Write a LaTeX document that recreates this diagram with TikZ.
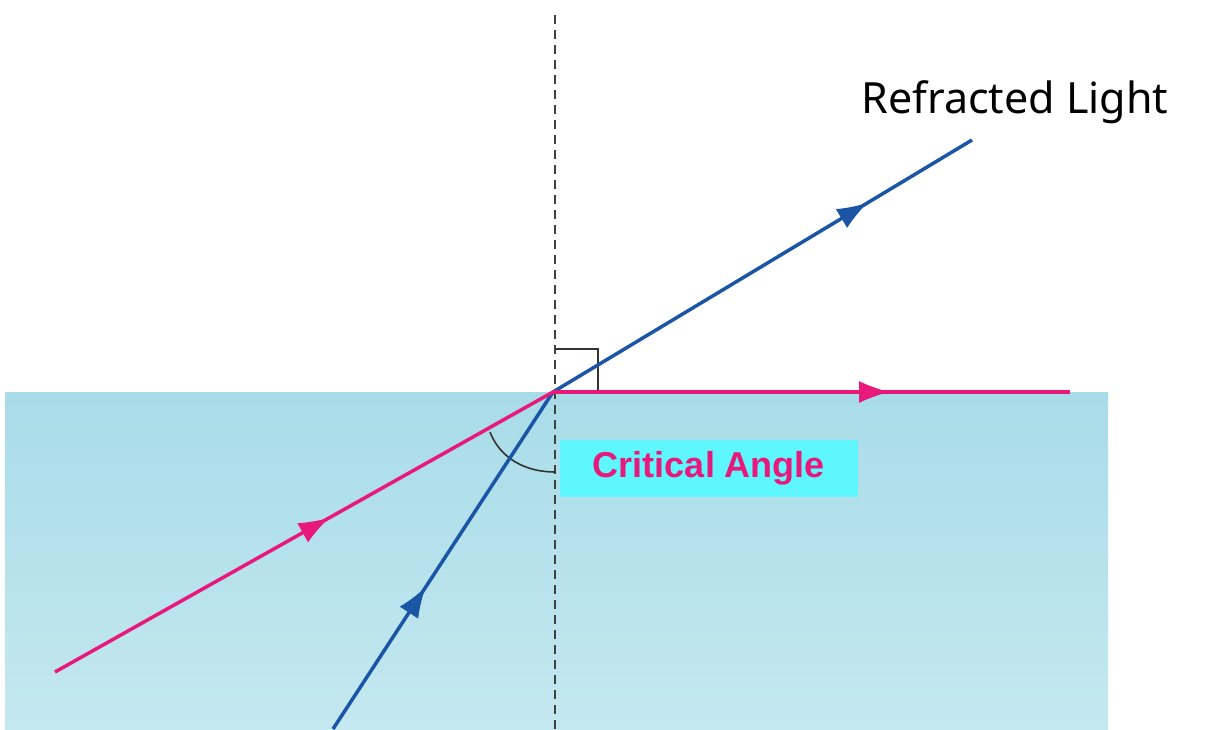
\documentclass[tikz,border=0pt]{standalone}
\usepackage{fontspec}
\setmainfont{Noto Sans}
\newfontfamily\lbf{Liberation Sans}
\usetikzlibrary{decorations.markings,arrows.meta}
\definecolor{pk}{HTML}{E8197A}
\definecolor{bl}{HTML}{1B55A6}
\definecolor{wt}{HTML}{A8DCE8}
\definecolor{wb}{HTML}{C4E8F0}
\definecolor{cy}{HTML}{5EF6FF}
\begin{document}
\begin{tikzpicture}[x=1pt,y=-1pt,
 ray/.style={line width=3.5pt},
 mid/.style={postaction={decorate},decoration={markings,mark=at position #1 with {\arrow[line width=1pt]{Latex[length=30pt,width=22pt]}}}}]
\useasboundingbox (0,0) rectangle (1218,729);
\shade[top color=wt,bottom color=wb] (5,392) rectangle (1108,729);
\coordinate (O) at (553,392);
\coordinate (pa) at (55,672);
\coordinate (pb) at (1070,392);
\coordinate (ba) at (333,729);
\coordinate (bb) at (972,140);
\draw[dash pattern=on 9pt off 6pt,line width=1.6pt,black!75] (555,15) -- (555,729);
\draw[black!80,line width=1.6pt] (555,349) -- (598,349) -- (598,392);
\draw[black!80,line width=1.6pt] (490,432) .. controls (500,458) and (525,472) .. (555,472);
\draw[ray,bl,mid=0.42] (ba) -- (O);
\draw[ray,bl,mid=0.75] (O) -- (bb);
\draw[ray,pk,mid=0.55] (pa) -- (O);
\draw[ray,pk,mid=0.65] (O) -- (pb);
\node[fill=cy,text=pk,font=\lbf\bfseries\fontsize{36}{42}\selectfont,minimum width=298pt,minimum height=57pt,inner sep=0pt] (ca) at (709,468) {Critical Angle};
\node[font=\fontsize{43}{50}\selectfont] (rl) at (1015,102) {Refracted Light};
\end{tikzpicture}
\end{document}
